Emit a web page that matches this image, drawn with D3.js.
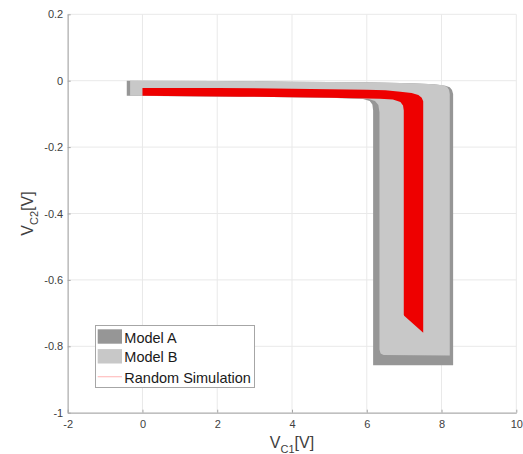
<!DOCTYPE html>
<html>
<head>
<meta charset="utf-8">
<script src="https://cdn.jsdelivr.net/npm/d3@7"></script>
<style>
  html, body { margin: 0; padding: 0; background: #fff; }
  svg { display: block; font-family: "Liberation Sans", Arial, sans-serif; }
</style>
</head>
<body>
<svg id="chart" width="523" height="454"></svg>
<script>
// ---- data (V_C1, V_C2) outlines ----
const modelA = [
  [-0.42, 0.0], [2, -0.001], [4, -0.003], [6, -0.005], [7.2, -0.008], [7.8, -0.011],
  [8.1, -0.015], [8.22, -0.02], [8.28, -0.028], [8.31, -0.04], [8.31, -0.857],
  [6.17, -0.857], [6.17, -0.09], [6.15, -0.072], [6.08, -0.061], [5.9, -0.055],
  [5, -0.051], [2.6, -0.048], [-0.42, -0.045]
];
const modelB = [
  [-0.33, 0.0], [2, -0.001], [4, -0.003], [6, -0.005], [7.2, -0.008], [7.8, -0.011],
  [8.05, -0.014], [8.15, -0.019], [8.2, -0.027], [8.22, -0.04], [8.22, -0.828],
  [6.45, -0.826], [6.37, -0.822], [6.34, -0.81], [6.34, -0.095], [6.31, -0.073],
  [6.22, -0.061], [6.05, -0.055], [5, -0.051], [2.6, -0.048], [-0.33, -0.045]
];
const randomSim = [
  [0, -0.022], [2, -0.022], [4, -0.024], [6, -0.027], [6.5, -0.029], [6.9, -0.033],
  [7.2, -0.037], [7.38, -0.043], [7.47, -0.051], [7.51, -0.062], [7.51, -0.759],
  [7.0, -0.708], [6.99, -0.705], [6.99, -0.09], [6.97, -0.075], [6.9, -0.064],
  [6.7, -0.057], [6.35, -0.054], [5, -0.051], [2.6, -0.048], [0, -0.045]
];
const xTicks = [-2, 0, 2, 4, 6, 8, 10];
const yTicks = [-1, -0.8, -0.6, -0.4, -0.2, 0, 0.2];
const legendLabels = ["Model A", "Model B", "Random Simulation"];
const colors = { A: "#969696", B: "#c8c8c8", R: "#ee0000" };

// ---- layout ----
const svg = d3.select("#chart");
const pL = 67.7, pR = 516.3, pT = 14.3, pB = 412.7;
const x = d3.scaleLinear().domain([-2, 10]).range([pL, pR]);
const y = d3.scaleLinear().domain([-1, 0.2]).range([pB, pT]);

// grid
const grid = svg.append("g");
grid.selectAll(".gx").data(xTicks).join("line")
  .attr("x1", d => x(d)).attr("x2", d => x(d)).attr("y1", pT).attr("y2", pB)
  .attr("stroke", "#e9e9e9").attr("stroke-width", 1);
grid.selectAll(".gy").data(yTicks).join("line")
  .attr("x1", pL).attr("x2", pR).attr("y1", d => y(d)).attr("y2", d => y(d))
  .attr("stroke", "#e9e9e9").attr("stroke-width", 1);

// shapes
const line = d3.line().x(d => x(d[0])).y(d => y(d[1]));
svg.append("path").attr("d", line(modelA) + "Z").attr("fill", colors.A);
svg.append("path").attr("d", line(modelB) + "Z").attr("fill", colors.B);
svg.append("path").attr("d", line(randomSim) + "Z").attr("fill", colors.R);

// axes
const xAxis = svg.append("g").attr("transform", `translate(0,${pB})`)
  .call(d3.axisBottom(x).tickValues(xTicks).tickSizeInner(-3).tickSizeOuter(0).tickPadding(8)
    .tickFormat(d => String(d)));
const yAxis = svg.append("g").attr("transform", `translate(${pL},0)`)
  .call(d3.axisLeft(y).tickValues(yTicks).tickSizeInner(-3).tickSizeOuter(0).tickPadding(4.5)
    .tickFormat(d => String(+d.toFixed(1))));
[xAxis, yAxis].forEach(g => {
  g.select(".domain").attr("stroke", "#a6a6a6");
  g.selectAll(".tick line").attr("stroke", "#a6a6a6");
  g.selectAll(".tick text").attr("fill", "#404040").attr("font-size", 11)
    .attr("font-family", "'Liberation Sans', Arial, sans-serif");
});

// axis labels
const xl = svg.append("text").attr("x", (pL + pR) / 2).attr("y", 448.3)
  .attr("text-anchor", "middle").attr("fill", "#404040").attr("font-size", 16);
xl.append("tspan").text("V");
xl.append("tspan").attr("font-size", 11).attr("dy", 5).text("C1");
xl.append("tspan").attr("dy", -5).text("[V]");

const yl = svg.append("text").attr("transform", `translate(33.3,${(pT + pB) / 2}) rotate(-90)`)
  .attr("text-anchor", "middle").attr("fill", "#404040").attr("font-size", 16);
yl.append("tspan").text("V");
yl.append("tspan").attr("font-size", 11).attr("dy", 5).text("C2");
yl.append("tspan").attr("dy", -5).text("[V]");

// legend
const lg = svg.append("g");
lg.append("rect").attr("x", 95.5).attr("y", 325.5).attr("width", 159).attr("height", 62)
  .attr("fill", "#fff").attr("stroke", "#a6a6a6").attr("stroke-width", 1);
const rowY = [336.5, 356.3, 376.7];
const rows = lg.selectAll(".row").data(legendLabels).join("g")
  .attr("transform", (d, i) => `translate(0,${rowY[i]})`);
rows.each(function (d, i) {
  const g = d3.select(this);
  if (i < 2) {
    g.append("rect").attr("x", 97.7).attr("y", -7.2).attr("width", 24.3).attr("height", 14.4)
      .attr("fill", i === 0 ? colors.A : colors.B);
  } else {
    g.append("line").attr("x1", 97.7).attr("x2", 122).attr("y1", 0).attr("y2", 0)
      .attr("stroke", "#ff0000").attr("stroke-opacity", 0.25).attr("stroke-width", 1.2);
  }
  g.append("text").attr("x", 124.3).attr("y", 6).attr("font-size", 14.5)
    .attr("fill", "#1a1a1a").text(d);
});
</script>
</body>
</html>
